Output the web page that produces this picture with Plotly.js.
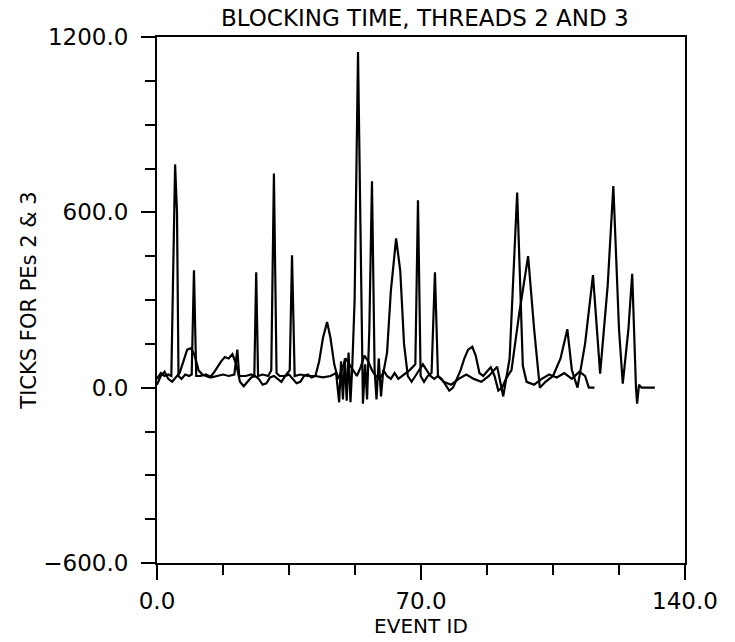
<!DOCTYPE html>
<html>
<head>
<meta charset="utf-8">
<script src="https://cdn.plot.ly/plotly-3.0.1.min.js"></script>
<style>html,body{margin:0;padding:0;background:#fff;}#chart{width:735px;height:642px;}</style>
</head>
<body>
<div id="chart"></div>
<script>
// Thread 2: sharp spikes
const thread2X = [0, 1, 2, 3, 3.8, 4.3, 4.8, 5.3, 5.7, 6.5, 7.5, 8.5, 9.2, 9.8, 10.4, 11.5, 13, 14.5, 16, 17.5, 19, 20.5, 21.3, 21.8, 23.5, 25, 25.8, 26.3, 26.8, 28, 29.5, 30.3, 31, 31.7, 32.5, 34, 35.2, 35.8, 36.5, 38, 40, 42, 44, 46, 47.5, 48.3, 48.8, 49.3, 49.8, 50.3, 50.8, 51.3, 51.8, 52.4, 53.3, 54.1, 54.6, 55.2, 55.7, 56.3, 57, 57.7, 58.2, 58.8, 59.4, 60, 61, 62, 63, 64, 65, 66, 67, 68.5, 69.2, 69.9, 70.8, 71.8, 72.8, 73.7, 74.5, 76, 78, 80, 82, 84, 86, 88, 90.2, 91.8, 93.5, 95.5, 97, 98, 100, 102, 104, 106, 108, 110, 112, 113.5, 114.5, 116];
const thread2Y = [30, 50, 40, 45, 40, 480, 764, 600, 40, 30, 45, 40, 45, 402, 40, 40, 45, 35, 40, 45, 40, 45, 130, 40, 40, 45, 40, 395, 40, 45, 40, 60, 733, 50, 40, 40, 60, 453, 40, 45, 40, 40, 35, 40, 50, -50, 90, -40, 100, -45, 120, -50, 80, 300, 1149, 500, -55, 80, -40, 200, 706, 60, -40, 100, -30, 60, 40, 30, 50, 30, 40, 50, 60, 80, 641, 40, 20, 40, 50, 395, 40, 20, 10, 30, 45, 30, 20, 40, 72, -30, 100, 668, 75, 20, 10, 30, 45, 35, 50, 30, 55, 40, 0, 0];

// Thread 3: smoother, wider peaks
const thread3X = [0, 1, 2, 3, 4, 5, 6, 7, 8, 9, 10, 11, 12, 13, 14, 15, 16, 17, 18, 19, 20, 21, 22, 23, 24, 25, 26, 27, 28, 29, 30, 31, 32, 33, 34, 35, 36, 37, 38, 39, 40, 41, 42, 43, 44, 45.1, 46, 47, 48, 49, 50, 51, 52, 53, 54, 55, 56, 57, 58, 59, 60, 61, 62, 63.4, 64.5, 65.5, 66.5, 67.5, 68.5, 69.5, 70.5, 71.5, 72.5, 73.5, 74.5, 75.5, 76.5, 77.5, 78.5, 79.5, 80.5, 81.5, 82.5, 83.6, 84.5, 85.5, 86.5, 87.5, 88.5, 89.5, 90.5, 91.5, 92.5, 94, 96, 98.4, 100, 101.5, 103, 105, 107, 108.8, 110, 111.5, 113.5, 115.6, 117.5, 119.5, 121, 122.5, 123.5, 125, 126, 127, 127.3, 127.8, 128.5, 130, 132];
const thread3Y = [10, 40, 55, 30, 20, 35, 50, 90, 130, 135, 110, 60, 45, 40, 35, 50, 70, 90, 105, 100, 115, 80, 20, 5, 20, 35, 40, 30, 10, 15, 35, 40, 30, 20, 40, 45, 30, 15, 20, 40, 45, 35, 40, 90, 170, 225, 170, 80, 30, 60, 100, 80, 60, 40, 70, 110, 90, 60, 40, 30, 50, 120, 330, 511, 400, 150, 40, 20, 40, 60, 80, 60, 40, 30, 40, 30, 10, -10, 0, 30, 60, 100, 130, 140, 110, 50, 40, 55, 70, 40, -10, 0, 30, 60, 250, 450, 200, 0, 20, 40, 100, 200, 60, 0, 150, 385, 48, 350, 690, 200, 14, 200, 390, 0, -55, 10, 0, 0, 0];

const xTickVals = [0, 70, 140];
const xTickText = ["0.0", "70.0", "140.0"];
const yTickVals = [-600, 0, 600, 1200];
const yTickText = ["\u2212600.0", "0.0", "600.0", "1200.0"];

const lineStyle = {color: "#000", width: 2.2};
const traces = [
  {x: thread2X, y: thread2Y, type: "scatter", mode: "lines", line: lineStyle, name: "Thread 2"},
  {x: thread3X, y: thread3Y, type: "scatter", mode: "lines", line: lineStyle, name: "Thread 3"}
];

const font = "DejaVu Sans, Liberation Sans, sans-serif";
const layout = {
  width: 735, height: 642,
  margin: {l: 157, r: 50, t: 37, b: 79},
  paper_bgcolor: "#fff", plot_bgcolor: "#fff",
  showlegend: false,
  font: {family: font, color: "#000", size: 23},
  title: {text: "BLOCKING TIME, THREADS 2 AND 3", font: {family: font, size: 23, color: "#000"}, x: 0.578, xanchor: "center", y: 0.972, yanchor: "middle"},
  xaxis: {
    range: [0, 140], tickvals: xTickVals, ticktext: xTickText,
    ticks: "outside", ticklen: 15, tickwidth: 2, tickcolor: "#000",
    minor: {dtick: 17.5, ticks: "outside", ticklen: 10, tickwidth: 2, tickcolor: "#000", showgrid: false},
    showline: true, linecolor: "#000", linewidth: 2, mirror: true,
    showgrid: false, zeroline: false,
    tickfont: {family: font, size: 23, color: "#000"},
    ticklabelstandoff: 1,
    title: {text: "EVENT ID", font: {family: font, size: 20, color: "#000"}, standoff: 0}
  },
  yaxis: {
    range: [-600, 1200], tickvals: yTickVals, ticktext: yTickText,
    ticks: "outside", ticklen: 14, tickwidth: 2, tickcolor: "#000",
    minor: {dtick: 150, ticks: "outside", ticklen: 10, tickwidth: 2, tickcolor: "#000", showgrid: false},
    showline: true, linecolor: "#000", linewidth: 2, mirror: true,
    showgrid: false, zeroline: false,
    tickfont: {family: font, size: 23, color: "#000"},
    ticklabelstandoff: 8,
    title: {text: "TICKS FOR PEs 2 & 3", font: {family: font, size: 21, color: "#000"}, standoff: 1}
  }
};

Plotly.newPlot("chart", traces, layout, {displayModeBar: false, staticPlot: true});
</script>
</body>
</html>
